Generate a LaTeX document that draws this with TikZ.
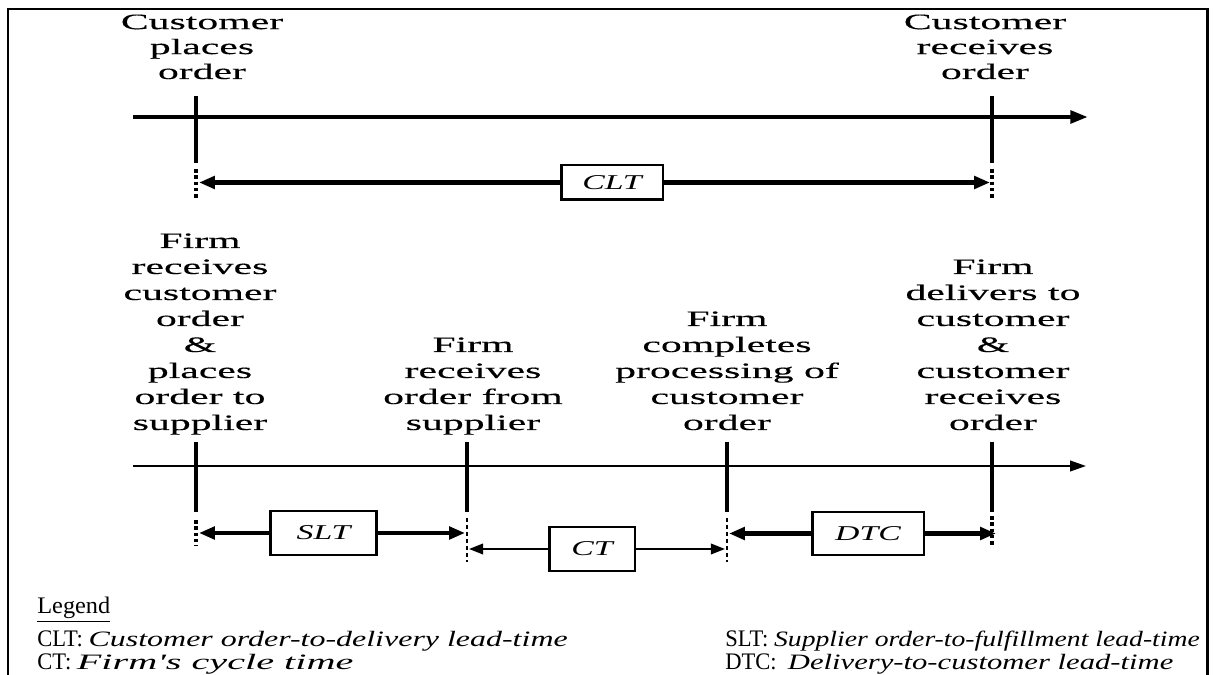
\documentclass[tikz,border=0pt]{standalone}
\usepackage{fontspec}
\setmainfont[FakeStretch=1.6]{Liberation Serif}
\newfontfamily\lblfont[FakeStretch=1.9,FakeBold=0.3]{Liberation Serif}
\newfontfamily\legup[FakeStretch=0.95]{Liberation Serif}
\newfontfamily\legit[FakeStretch=1.5]{Liberation Serif}
\usetikzlibrary{arrows.meta}
\begin{document}
\begin{tikzpicture}[x=0.02cm,y=-0.02cm,
  lbl/.style={align=center, anchor=base, inner sep=0pt, font=\lblfont\fontsize{12.5}{14.8}\selectfont},
  toplbl/.style={lbl, font=\lblfont\fontsize{12.5}{14.2}\selectfont},
  leg/.style={anchor=base west, inner sep=0pt, font=\legup\fontsize{13.5}{15}\selectfont},
  frame/.style={line width=1.7pt},
  axisthick/.style={line width=2.5pt, -{Triangle[length=10pt,width=7pt]}},
  axisthin/.style={line width=1.1pt, -{Triangle[length=9pt,width=6pt]}},
  tickmark/.style={line width=2.4pt},
  dotthick/.style={line width=2.6pt, dash pattern=on 2pt off 1.6pt},
  dotthin/.style={line width=1.2pt, dash pattern=on 2pt off 2pt},
  lenbox/.style={draw, line width=1.7pt, inner sep=0pt, font=\fontsize{12}{13}\selectfont\itshape},
  arrthick/.style={line width=2.3pt, -{Triangle[length=9pt,width=7pt]}},
  arrthin/.style={line width=1.1pt, -{Triangle[length=8pt,width=6pt]}}
]
\newcommand\legitx[2]{{\legit\fontsize{12.5}{15}\selectfont\itshape\scalebox{#1}[1]{#2}}}
\useasboundingbox (0,0) rectangle (1215,675);
% frame
\coordinate (f1) at (8,676); \coordinate (f2) at (8,9);
\coordinate (f3) at (1207,9); \coordinate (f4) at (1207,676);
\draw[frame] (f1) -- (f2) -- (f3) -- (f4);

% ---------- top timeline ----------
\coordinate (A0) at (133,117); \coordinate (A1) at (1088,117);
\draw[axisthick] (A0) -- (A1);
\node[toplbl] (cpo) at (202,79) {Customer\\places\\order};
\node[toplbl] (cro) at (985,79) {Customer\\receives\\order};
\coordinate (u1t) at (196,96); \coordinate (u1b) at (196,163);
\coordinate (u1c) at (196,169); \coordinate (u1d) at (196,199);
\coordinate (u2t) at (992,96); \coordinate (u2b) at (992,163);
\coordinate (u2c) at (992,169); \coordinate (u2d) at (992,199);
\draw[tickmark] (u1t) -- (u1b);
\draw[tickmark] (u2t) -- (u2b);
\draw[dotthick] (u1c) -- (u1d);
\draw[dotthick] (u2c) -- (u2d);
\node[lenbox, minimum width=2.04cm, minimum height=0.7cm] (CLT) at (612,182.5) {CLT};
\coordinate (clL) at (199,182.5); \coordinate (clR) at (990,182.5);
\draw[arrthick] (CLT.west) -- (clL);
\draw[arrthick] (CLT.east) -- (clR);

% ---------- bottom timeline ----------
\coordinate (B0) at (133,466); \coordinate (B1) at (1086,466);
\draw[axisthin] (B0) -- (B1);
\node[lbl] (l1) at (200,430) {Firm\\receives\\customer\\order\\\&\\places\\order to\\supplier};
\node[lbl] (l2) at (473,430) {Firm\\receives\\order from\\supplier};
\node[lbl] (l3) at (727,430) {Firm\\completes\\processing of\\customer\\order};
\node[lbl] (l4) at (993,430) {Firm\\delivers to\\customer\\\&\\customer\\receives\\order};
\foreach \n/\xx in {1/196,2/467,3/727,4/992}{
  \coordinate (v\n t) at (\xx,442);
  \coordinate (v\n b) at (\xx,512);
  \draw[tickmark] (v\n t) -- (v\n b);
}
\coordinate (v1c) at (196,520); \coordinate (v1d) at (196,546);
\coordinate (v2c) at (467,518); \coordinate (v2d) at (467,562);
\coordinate (v3c) at (727,518); \coordinate (v3d) at (727,562);
\coordinate (v4c) at (992,516); \coordinate (v4d) at (992,546);
\draw[dotthick] (v1c) -- (v1d);
\draw[dotthin] (v2c) -- (v2d);
\draw[dotthin] (v3c) -- (v3d);
\draw[dotthick] (v4c) -- (v4d);

\node[lenbox, minimum width=2.14cm, minimum height=0.88cm] (SLT) at (323.5,533) {SLT};
\node[lenbox, minimum width=1.72cm, minimum height=0.88cm] (CT) at (592,549) {CT};
\node[lenbox, minimum width=2.24cm, minimum height=0.86cm] (DTC) at (868,533.5) {DTC};
\coordinate (sL) at (199,533); \coordinate (sR) at (465,533);
\coordinate (cL) at (469,549); \coordinate (cR) at (725,549);
\coordinate (dL) at (729,533.5); \coordinate (dR) at (996,533.5);
\draw[arrthick] (SLT.west) -- (sL);
\draw[arrthick] (SLT.east) -- (sR);
\draw[arrthin] (CT.west) -- (cL);
\draw[arrthin] (CT.east) -- (cR);
\draw[arrthick] (DTC.west) -- (dL);
\draw[arrthick] (DTC.east) -- (dR);

% ---------- legend ----------
\node[leg] (lg) at (37,614) {\underline{\scalebox{1.08}[1]{Legend}}};
\node[leg] (lclt) at (37,647) {CLT: \legitx{0.97}{Customer order-to-delivery lead-time}};
\node[leg] (lct) at (37,670) {CT: \legitx{1.22}{Firm's cycle time}};
\node[leg] (lslt) at (725,647) {SLT: \legitx{0.84}{Supplier order-to-fulfillment lead-time}};
\node[leg] (ldtc) at (725,670) {DTC:~ \legitx{0.93}{Delivery-to-customer lead-time}};
\end{tikzpicture}
\end{document}
